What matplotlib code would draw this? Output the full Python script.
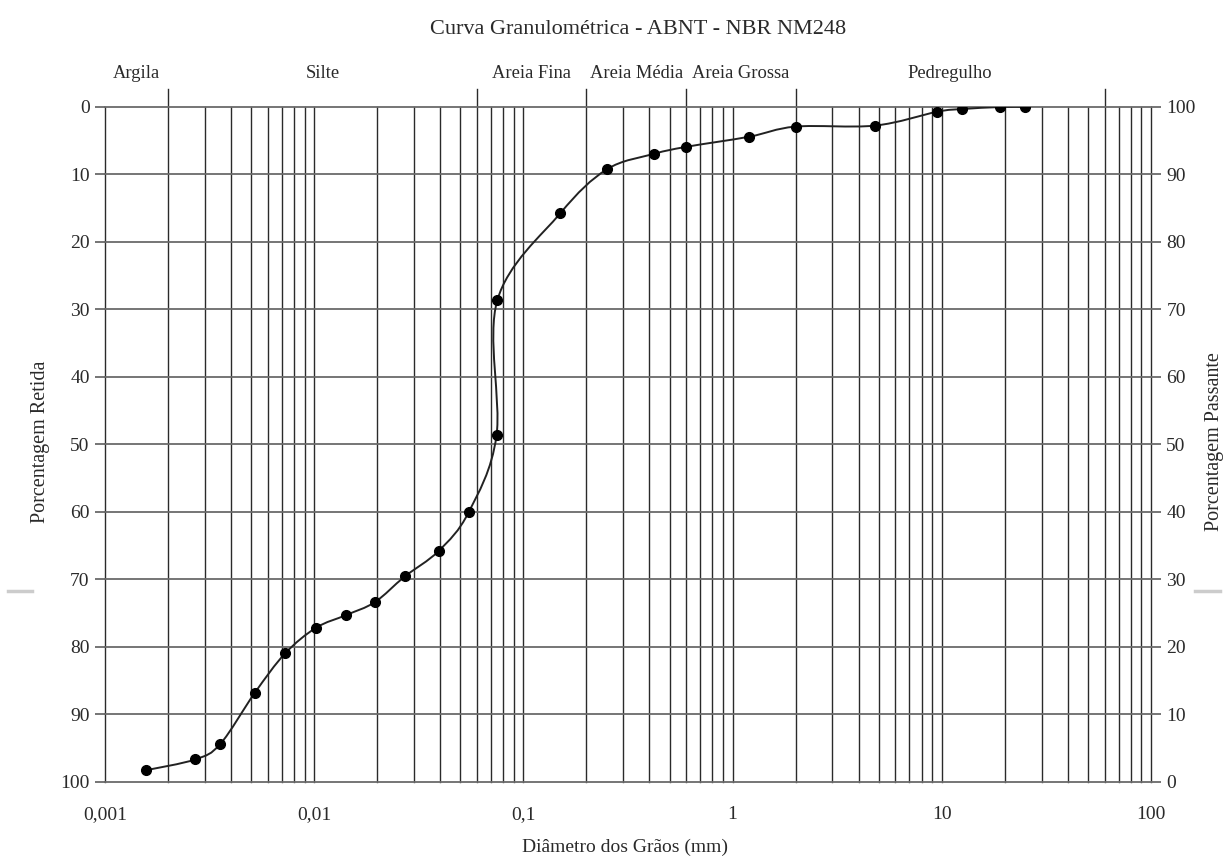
import matplotlib
matplotlib.use("Agg")
import matplotlib.pyplot as plt
import numpy as np
from matplotlib.path import Path
from matplotlib.patches import PathPatch
from matplotlib.lines import Line2D

plt.rcParams['font.family'] = ['Liberation Serif', 'DejaVu Serif']

# --- data ---
diametro_mm = [25.0, 19.0, 12.5, 9.5, 4.8, 2.0, 1.2, 0.6, 0.42, 0.25, 0.15,
               0.075, 0.0744, 0.0547, 0.0394, 0.0271, 0.0195, 0.01425,
               0.0102, 0.00726, 0.00521, 0.00356, 0.0027, 0.00157]
retida_pct = [0.05, 0.05, 0.35, 0.75, 2.8, 2.95, 4.45, 5.95, 7.0, 9.3, 15.8,
              28.7, 48.7, 60.1, 65.8, 69.6, 73.4, 75.3,
              77.2, 81.0, 86.8, 94.4, 96.7, 98.3]

zone_limits = [0.001, 0.002, 0.06, 0.2, 0.6, 2.0, 60.0]
zone_names = ["Argila", "Silte", "Areia Fina", "Areia Média", "Areia Grossa", "Pedregulho"]

x_major = [0.001, 0.01, 0.1, 1, 10, 100]
x_major_labels = ["0,001", "0,01", "0,1", "1", "10", "100"]
y_ticks = list(range(0, 101, 10))

fig = plt.figure(figsize=(12.25, 8.59), dpi=100)
ax = fig.add_axes([0.0857, 0.090, 0.8539, 0.7858])

ax.set_xscale("log")
ax.set_xlim(0.001, 100)
ax.set_ylim(100, 0)

VCOL = "#2a2a2a"
HCOL = "#6a6a6a"
TXT = "#2a2a2a"

# vertical grid: every 1..9 in each decade
minor_pos = [m * 10.0 ** e for e in range(-3, 2) for m in range(1, 10)] + [100]
for xv in minor_pos:
    if any(np.isclose(xv, z) for z in zone_limits[1:]):
        continue
    ax.axvline(xv, color=VCOL, lw=1.0, zorder=1, clip_on=False)
# zone limits rise above the plot
for xv in zone_limits[1:]:
    ax.plot([xv, xv], [0, 1.026], transform=ax.get_xaxis_transform(),
            color=VCOL, lw=1.0, clip_on=False, zorder=1)

# horizontal grid
for yv in y_ticks:
    ax.axhline(yv, color=HCOL, lw=1.3, zorder=1, clip_on=False)

for s in ax.spines.values():
    s.set_visible(False)

ax.set_xticks(x_major)
ax.set_xticklabels(x_major_labels)
ax.xaxis.set_minor_locator(matplotlib.ticker.NullLocator())
ax.tick_params(axis="x", length=0, pad=17.5, labelsize=14, colors=TXT)
ax.set_yticks(y_ticks)
ax.tick_params(axis="y", length=7, width=1.3, color=HCOL, pad=4, labelsize=14,
               labelcolor=TXT)

ax2 = ax.twinx()
ax2.set_ylim(0, 100)
ax2.set_yticks(y_ticks)
ax2.tick_params(axis="y", length=7, width=1.3, color=HCOL, pad=4, labelsize=14,
                labelcolor=TXT)
for s in ax2.spines.values():
    s.set_visible(False)

# smoothed curve (Bezier through the points, built in log-x space)
lx = np.log10(diametro_mm)
yy = np.array(retida_pct)
n = len(lx)
verts = [(lx[0], yy[0])]
codes = [Path.MOVETO]
for i in range(n - 1):
    p0 = np.array([lx[max(i - 1, 0)], yy[max(i - 1, 0)]])
    p1 = np.array([lx[i], yy[i]])
    p2 = np.array([lx[i + 1], yy[i + 1]])
    p3 = np.array([lx[min(i + 2, n - 1)], yy[min(i + 2, n - 1)]])
    c1 = p1 + (p2 - p0) / 6.0
    c2 = p2 - (p3 - p1) / 6.0
    verts += [tuple(c1), tuple(c2), tuple(p2)]
    codes += [Path.CURVE4] * 3
verts = [(10 ** vx, vy) for vx, vy in verts]
ax.add_patch(PathPatch(Path(verts, codes), facecolor="none", edgecolor="#222222",
                       lw=1.4, zorder=3))
ax.plot(diametro_mm, retida_pct, linestyle="none", marker="o", ms=7,
        color="black", zorder=4)

# zone names above the plot
for a, b, name in zip(zone_limits[:-1], zone_limits[1:], zone_names):
    ax.text(np.sqrt(a * b), 1.049, name, transform=ax.get_xaxis_transform(),
            ha="center", va="center", fontsize=13.3, color=TXT)

fig.text(638 / 1225, 1 - 30 / 859, "Curva Granulométrica - ABNT - NBR NM248",
         ha="center", va="center", fontsize=16, color=TXT)
fig.text(40 / 1225, 1 - 442 / 859, "Porcentagem Retida", rotation=90,
         ha="center", va="center", fontsize=14.5, color=TXT)
fig.text(1215 / 1225, 1 - 442 / 859, "Porcentagem Passante", rotation=90,
         ha="center", va="center", fontsize=14.5, color=TXT)
fig.text(625 / 1225, 1 - 847 / 859, "Diâmetro dos Grãos (mm)",
         ha="center", va="center", fontsize=14, color=TXT)

# light grey marks at the picture edges
fig.add_artist(Line2D([8 / 1225, 32 / 1225], [1 - 591 / 859] * 2, color="#cccccc", lw=2.5))
fig.add_artist(Line2D([1195 / 1225, 1220 / 1225], [1 - 591 / 859] * 2, color="#cccccc", lw=2.5))

fig.savefig("out.png", dpi=100)
